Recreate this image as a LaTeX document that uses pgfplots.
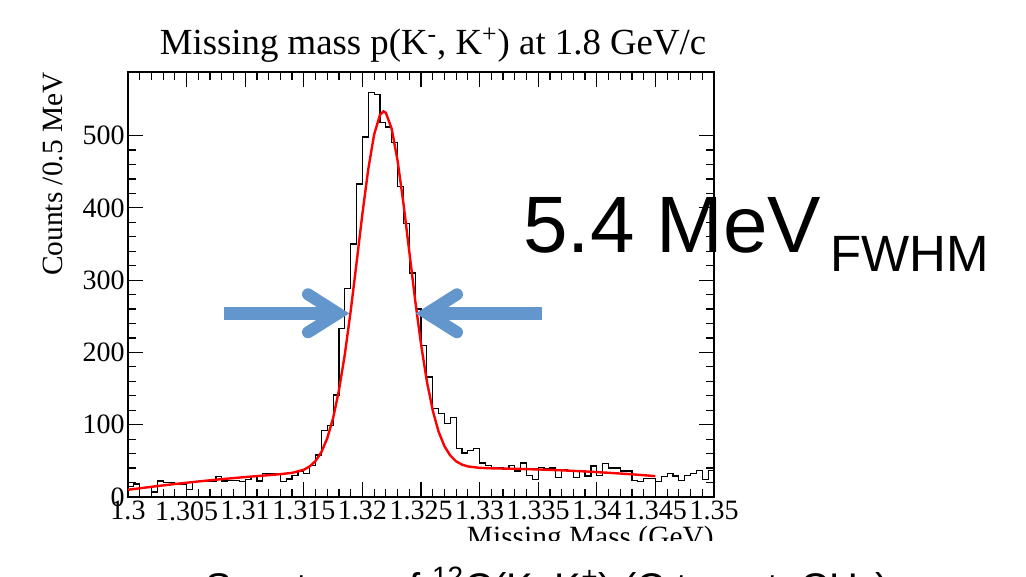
\documentclass[border=0pt]{standalone}
\usepackage{fontspec}
\setmainfont{Liberation Serif}
\newfontfamily\helv{Liberation Sans}
\usepackage{pgfplots}
\pgfplotsset{compat=1.18}
\usepackage{pgfplotstable}
\definecolor{arrowblue}{RGB}{99,150,204}
\definecolor{fitred}{RGB}{255,0,0}

% Missing-mass histogram, 0.5 MeV bins (left bin edge, counts)
\pgfplotstableread{
x y
1.3000 15
1.3005 18
1.3010 13
1.3015 13
1.3020 7
1.3025 22
1.3030 20
1.3035 20
1.3040 18
1.3045 18
1.3050 10
1.3055 21
1.3060 21
1.3065 21
1.3070 21
1.3075 28
1.3080 22
1.3085 23
1.3090 23
1.3095 21
1.3100 24
1.3105 28
1.3110 22
1.3115 32
1.3120 32
1.3125 33
1.3130 21
1.3135 25
1.3140 30
1.3145 35
1.3150 32
1.3155 44
1.3160 58
1.3165 92
1.3170 99
1.3175 141
1.3180 233
1.3185 288
1.3190 350
1.3195 433
1.3200 498
1.3205 560
1.3210 557
1.3215 518
1.3220 512
1.3225 491
1.3230 430
1.3235 378
1.3240 310
1.3245 260
1.3250 210
1.3255 166
1.3260 122
1.3265 115
1.3270 102
1.3275 110
1.3280 67
1.3285 61
1.3290 64
1.3295 67
1.3300 47
1.3305 44
1.3310 41
1.3315 40
1.3320 38
1.3325 44
1.3330 36
1.3335 47
1.3340 30
1.3345 24
1.3350 41
1.3355 39
1.3360 40
1.3365 27
1.3370 38
1.3375 36
1.3380 27
1.3385 35
1.3390 29
1.3395 43
1.3400 30
1.3405 46
1.3410 40
1.3415 40
1.3420 36
1.3425 36
1.3430 23
1.3435 21
1.3440 26
1.3445 26
1.3450 21
1.3455 28
1.3460 32
1.3465 29
1.3470 23
1.3475 30
1.3480 32
1.3485 37
1.3490 24
1.3495 37
1.3500 37
}\histtable

% Fitted curve (Gaussian peak on a smooth background), sampled
\pgfplotstableread{
m f
1.3000 10.0
1.3020 14.1
1.3040 18.0
1.3060 21.5
1.3080 24.7
1.3100 27.6
1.3120 30.2
1.3130 31.6
1.3140 33.4
1.3150 37.7
1.3155 42.2
1.3160 49.8
1.3165 62.1
1.3170 81.2
1.3175 109.1
1.3180 147.6
1.3185 197.2
1.3190 257.1
1.3195 323.8
1.3200 391.7
1.3205 453.5
1.3210 501.4
1.3215 528.8
1.3218 533.5
1.3220 531.6
1.3225 509.4
1.3230 465.6
1.3235 406.4
1.3240 339.6
1.3245 272.6
1.3250 211.6
1.3255 160.1
1.3260 119.9
1.3265 90.4
1.3270 70.3
1.3275 57.3
1.3280 49.3
1.3285 44.8
1.3290 42.3
1.3300 40.3
1.3310 39.7
1.3330 39.0
1.3350 38.1
1.3370 36.9
1.3390 35.4
1.3410 33.5
1.3430 31.4
1.3450 28.9
}\fittable

\begin{document}
\begin{tikzpicture}
\useasboundingbox (0,0) rectangle (513bp,288.5bp);
\clip (0,0) rectangle (513bp,288.5bp);
\begin{axis}[
  at={(64bp,40bp)}, anchor=south west,
  scale only axis, width=293bp, height=212.5bp,
  xmin=1.3, xmax=1.35, ymin=0, ymax=588,
  clip=false,
  xtick={1.3,1.305,1.31,1.315,1.32,1.325,1.33,1.335,1.34,1.345,1.35},
  xticklabels={1.3,1.305,1.31,1.315,1.32,1.325,1.33,1.335,1.34,1.345,1.35},
  ytick={0,100,200,300,400,500},
  yticklabels={0,100,200,300,400,500},
  minor x tick num=4, minor y tick num=4,
  tick align=inside, xtick pos=both, ytick pos=both,
  major tick length=7.5bp, minor tick length=3.8bp,
  tick style={black, line width=0.6bp},
  axis line style={black, line width=0.75bp},
  xticklabel style={font=\fontsize{14bp}{14bp}\selectfont, inner sep=1bp, yshift=-1bp},
  yticklabel style={font=\fontsize{14bp}{14bp}\selectfont, inner sep=1bp, xshift=-0.5bp},
  scaled x ticks=false, scaled y ticks=false,
]
\addplot[const plot, black, line width=0.6bp] table[x=x, y=y] {\histtable};
\addplot[fitred, line width=1.2bp, sharp plot] table[x=m, y=f] {\fittable};
% FWHM arrows
\draw[arrowblue, line width=6.5bp] (axis cs:1.30819,254) -- (axis cs:1.31780,254);
\draw[arrowblue, line width=6bp, line cap=round, line join=miter]
  (axis cs:1.31536,280.4) -- (axis cs:1.31792,254) -- (axis cs:1.31536,227.9);
\draw[arrowblue, line width=6.5bp] (axis cs:1.33532,254) -- (axis cs:1.32563,254);
\draw[arrowblue, line width=6bp, line cap=round, line join=miter]
  (axis cs:1.32807,280.4) -- (axis cs:1.32551,254) -- (axis cs:1.32807,227.9);
\end{axis}
% titles and labels
\node[anchor=base, inner sep=0pt, font=\fontsize{18.4bp}{18.4bp}\selectfont]
  at (216.5bp,261bp) {Missing mass p(K\textsuperscript{-}, K\textsuperscript{+}) at 1.8 GeV/c};
\node[rotate=90, anchor=base east, inner sep=0pt, font=\fontsize{14.7bp}{14.7bp}\selectfont]
  at (31bp,252.5bp) {Counts /0.5 MeV};
\node[anchor=base east, inner sep=0pt, font=\fontsize{14.7bp}{14.7bp}\selectfont]
  at (357bp,15.5bp) {Missing Mass (GeV)};
% lower band of the slide
\fill[white] (0,0) rectangle (513bp,18bp);
\node[anchor=base west, inner sep=0pt, font=\helv\fontsize{20bp}{20bp}\selectfont]
  at (102.5bp,-12bp) {Spectrum of \textsuperscript{12}C(K\textsuperscript{-},K\textsuperscript{+}) (C target, CH\textsubscript{2})};
% resolution annotation
\node[anchor=base west, inner sep=0pt, font=\helv\fontsize{40bp}{40bp}\selectfont]
  at (261.5bp,162bp) {5.4 MeV};
\node[anchor=base west, inner sep=0pt, font=\helv\fontsize{25.5bp}{25.5bp}\selectfont]
  at (415bp,152.5bp) {FWHM};
\end{tikzpicture}
\end{document}
